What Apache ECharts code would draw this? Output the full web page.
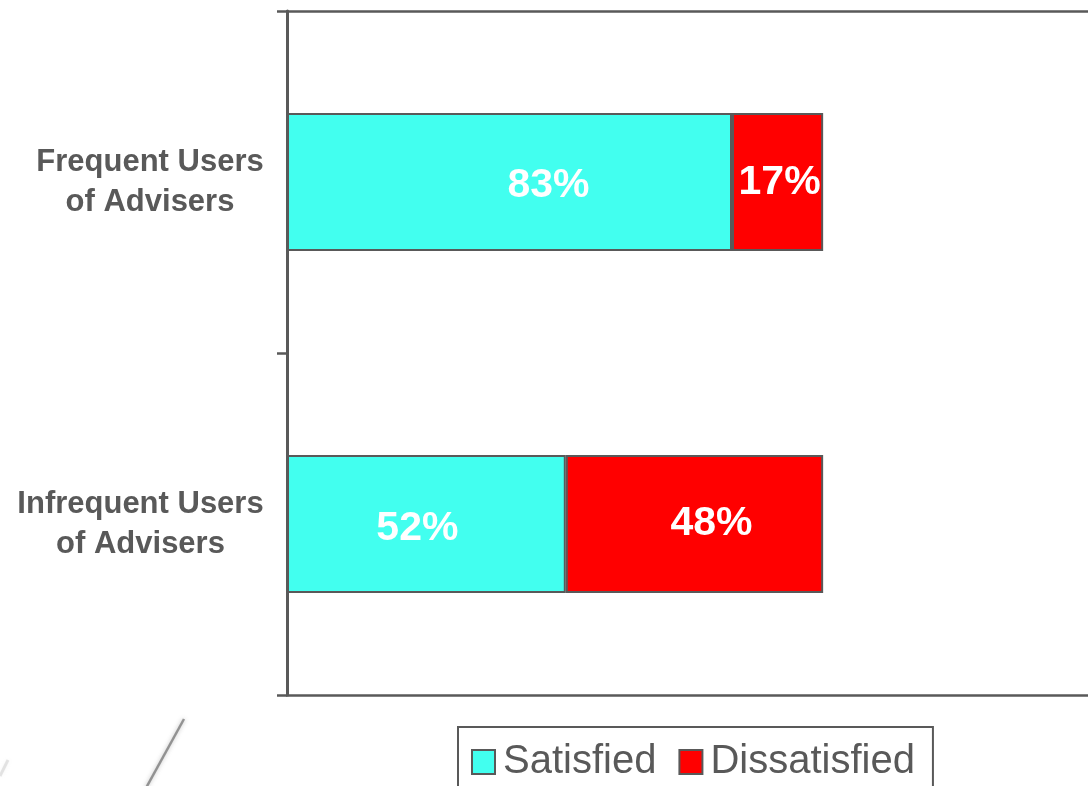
<!DOCTYPE html>
<html>
<head>
<meta charset="utf-8">
<title>Satisfaction with Advisers</title>
<script src="https://cdn.jsdelivr.net/npm/echarts@6/dist/echarts.min.js"></script>
<style>
  html, body { margin: 0; padding: 0; background: #ffffff; }
  #chart { width: 1088px; height: 786px; }
</style>
</head>
<body>
<div id="chart"></div>
<script>
// Groups shown on the vertical axis (top to bottom)
const categories = ['Frequent Users\nof Advisers', 'Infrequent Users\nof Advisers'];
// Share of respondents, in percent
const satisfied = [83, 52];
const dissatisfied = [17, 48];
const seriesNames = ['Satisfied', 'Dissatisfied'];

const GRAY = '#595959';
const LABEL_FONT = 'Arial, "Liberation Sans", Helvetica, sans-serif';

// Width of the widest line of each category label, so the lines can be
// centred inside a right-aligned block
const measureCtx = document.createElement('canvas').getContext('2d');
measureCtx.font = 'bold 31px ' + LABEL_FONT;
const labelRich = {};
categories.forEach((c, i) => {
  const w = Math.max(...c.split('\n').map(l => measureCtx.measureText(l).width));
  labelRich['c' + i] = {
    width: Math.ceil(w), align: 'center',
    fontSize: 31, fontWeight: 'bold', fontFamily: LABEL_FONT,
    color: GRAY, lineHeight: 40
  };
});

// Small nudges for the in-bar value labels
const satisfiedLabelShift = [[39, 4], [-9, 5]];
const dissatisfiedLabelShift = [[2, 1], [17, 0]];

const chart = echarts.init(document.getElementById('chart'), null, { renderer: 'canvas' });

const valueLabel = {
  show: true,
  position: 'inside',
  formatter: p => p.value + '%',
  color: '#ffffff',
  fontSize: 41,
  fontWeight: 'bold',
  fontFamily: LABEL_FONT
};

function withShift(values, shifts) {
  return values.map((v, i) => ({ value: v, label: { offset: shifts[i] } }));
}

// The value scale runs past the right edge of the page
const X_MAX = 149.4;

chart.setOption({
  animation: false,
  backgroundColor: '#ffffff',
  grid: { left: 287, top: 11, height: 684, right: 0 },
  xAxis: [
    {
      type: 'value', min: 0, max: X_MAX, position: 'bottom',
      axisLine: { show: true, lineStyle: { color: GRAY, width: 2.5 } },
      axisTick: { show: false }, axisLabel: { show: false }, splitLine: { show: false }
    },
    {
      type: 'value', min: 0, max: X_MAX, position: 'top',
      axisLine: { show: true, lineStyle: { color: GRAY, width: 2.5 } },
      axisTick: { show: false }, axisLabel: { show: false }, splitLine: { show: false }
    }
  ],
  yAxis: {
    type: 'category',
    data: categories,
    inverse: true,
    axisLine: { show: true, lineStyle: { color: GRAY, width: 3 } },
    axisTick: { show: true, length: 10, lineStyle: { color: GRAY, width: 2.5 } },
    axisLabel: {
      margin: 23,
      align: 'right',
      rich: labelRich,
      formatter: (value, idx) => value.split('\n').map(l => '{c' + idx + '|' + l + '}').join('\n')
    }
  },
  legend: {
    data: seriesNames,
    left: 458,
    top: 727,
    padding: [15, 18, 20, 13],
    itemGap: 22,
    itemWidth: 23,
    itemHeight: 24,
    icon: 'rect',
    borderColor: GRAY,
    borderWidth: 2,
    borderRadius: 0,
    textStyle: { color: GRAY, fontSize: 40, fontFamily: LABEL_FONT, padding: [2, 0, 0, 3] },
    itemStyle: { borderColor: GRAY, borderWidth: 2 }
  },
  series: [
    {
      name: seriesNames[0], type: 'bar', stack: 'total', barWidth: 138,
      data: withShift(satisfied, satisfiedLabelShift),
      itemStyle: { color: '#42FFEF', borderColor: GRAY, borderWidth: 2 },
      label: valueLabel
    },
    {
      name: seriesNames[1], type: 'bar', stack: 'total', barWidth: 138,
      data: withShift(dissatisfied, dissatisfiedLabelShift),
      itemStyle: { color: '#FF0000', borderColor: GRAY, borderWidth: 2 },
      label: valueLabel
    }
  ],
  graphic: [
    {
      type: 'line', silent: true,
      shape: { x1: 146, y1: 788, x2: 184, y2: 719 },
      style: { stroke: 'rgba(90,90,90,0.6)', lineWidth: 2.5, shadowBlur: 4, shadowColor: 'rgba(90,90,90,0.6)' }
    },
    {
      type: 'line', silent: true,
      shape: { x1: 0, y1: 776, x2: 8, y2: 760 },
      style: { stroke: 'rgba(170,170,170,0.3)', lineWidth: 3, shadowBlur: 4, shadowColor: 'rgba(170,170,170,0.3)' }
    }
  ]
});
</script>
</body>
</html>
